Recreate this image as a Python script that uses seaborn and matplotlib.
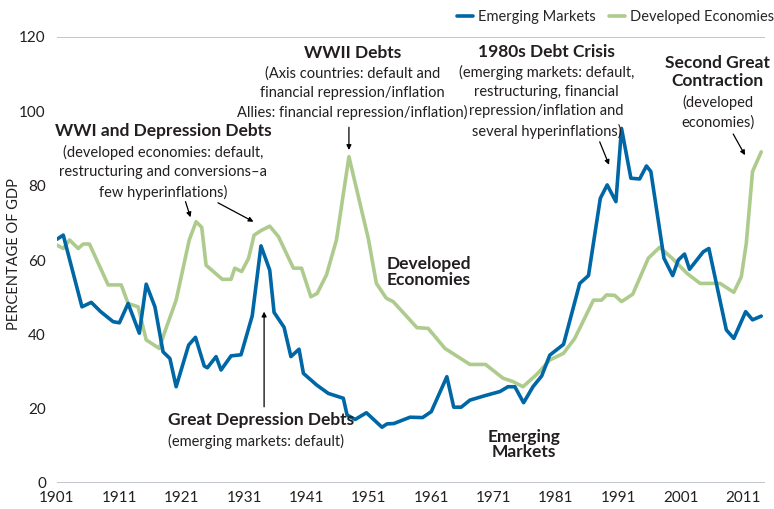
import numpy as np
import pandas as pd
import matplotlib.pyplot as plt
import seaborn as sns

# Emerging markets debt (% of GDP), vertices
em_years = [1901, 1902, 1905, 1906.5, 1908, 1910, 1911, 1912.4, 1914.2, 1915.3, 1916.7, 1918,
            1919.1, 1920.1, 1922.1, 1923.2, 1924.6, 1925.1, 1926.5, 1927.3, 1928.9, 1930.5,
            1932.3, 1933.7, 1935.1, 1935.8, 1937.4, 1938.5, 1939.8, 1940.5, 1942.6, 1944.5,
            1946.9, 1947.5, 1948.8, 1950.6, 1953.1, 1953.9, 1955, 1957.6, 1959.6, 1961,
            1963.5, 1964.6, 1965.8, 1967.2, 1969.6, 1972, 1973.3, 1974.4, 1975.8, 1977.3,
            1978.7, 1980, 1982.2, 1984.8, 1986.2, 1988.1, 1989.2, 1990.6, 1991.5, 1993,
            1994.4, 1995.5, 1996.2, 1998.3, 1999.7, 2000.6, 2001.6, 2002.4, 2004.6, 2005.5,
            2008.3, 2009.5, 2011.4, 2012.5, 2013.9]
em_values = [65.6, 66.7, 47.4, 48.6, 46.1, 43.4, 43.1, 48.3, 40.3, 53.5, 47.4, 35.3,
             33.5, 25.9, 37.1, 39.2, 31.5, 31.0, 34.0, 30.4, 34.2, 34.5,
             45.0, 63.8, 57.3, 45.9, 41.9, 34.0, 36.0, 29.5, 26.4, 24.1,
             22.8, 18.3, 17.1, 18.9, 15.0, 15.9, 16.0, 17.7, 17.6, 19.2,
             28.6, 20.4, 20.4, 22.3, 23.5, 24.6, 25.9, 25.9, 21.6, 25.9,
             28.8, 34.4, 37.3, 53.7, 55.8, 76.6, 80.2, 75.7, 95.4, 82.0,
             81.8, 85.3, 83.8, 60.5, 55.8, 60.0, 61.6, 57.5, 62.2, 63.1,
             41.2, 38.9, 46.1, 43.9, 44.9]

# Developed economies debt (% of GDP)
de_years = [1901, 1902, 1903, 1904.4, 1905.2, 1906.2, 1909.2, 1911.3, 1912.4, 1914, 1915.3,
            1917.4, 1918.2, 1920.1, 1922.2, 1923.3, 1924.2, 1924.9, 1927.5, 1928.9, 1929.5,
            1930.6, 1931.7, 1932.6, 1933.8, 1935.1, 1936.5, 1938.9, 1940.2, 1941.7, 1942.7,
            1944.2, 1945.8, 1947.8, 1950.9, 1952.2, 1953.8, 1954.9, 1958.7, 1960.5, 1963.2,
            1967.2, 1969.7, 1972.5, 1974.1, 1975.7, 1977.9, 1980, 1982.2, 1984, 1987,
            1988.3, 1989.1, 1990.4, 1991.5, 1993.3, 1995.8, 1997.6, 1999.6, 2002, 2004.1,
            2007.3, 2009.5, 2010.7, 2011.5, 2012.5, 2013.9]
de_values = [64.0, 63.1, 65.4, 63.1, 64.3, 64.3, 53.3, 53.3, 48.3, 47.4, 38.5,
             36.2, 40.3, 49.2, 65.4, 70.3, 68.8, 58.6, 54.8, 54.8, 57.8,
             56.9, 60.4, 66.7, 68.0, 69.1, 66.3, 57.8, 57.8, 50.1, 51.0,
             56.0, 65.4, 87.8, 65.8, 53.7, 49.7, 48.8, 41.8, 41.6, 36.2,
             31.9, 31.9, 28.2, 27.3, 25.9, 29.2, 33.1, 34.9, 38.9, 49.2,
             49.2, 50.6, 50.5, 48.8, 50.8, 60.5, 63.4, 60.5, 56.4, 53.7,
             53.7, 51.3, 55.5, 64.5, 83.8, 89.1]

x_ticks = list(range(1901, 2012, 10))
y_ticks = [0, 20, 40, 60, 80, 100, 120]

blue = '#0067a6'
green = '#aecb8e'
grey_line = '#b9bec4'
txt = '#231f20'

sns.set_style('white')
plt.rcParams['font.family'] = ['Lato', 'DejaVu Sans']

fig = plt.figure(figsize=(7.74, 5.09), dpi=100)
ax = fig.add_axes([57 / 774, 1 - 483 / 509, (765 - 57) / 774, (483 - 37) / 509])

de_df = pd.DataFrame({'year': de_years, 'value': de_values})
em_df = pd.DataFrame({'year': em_years, 'value': em_values})
sns.lineplot(data=de_df, x='year', y='value', color=green, linewidth=2.6, ax=ax,
             estimator=None, label='Developed Economies')
sns.lineplot(data=em_df, x='year', y='value', color=blue, linewidth=2.6, ax=ax,
             estimator=None, label='Emerging Markets')

ax.set_xlim(1901, 2014.5)
ax.set_ylim(0, 120)
for s in ax.spines.values():
    s.set_visible(False)
ax.axhline(0, color=grey_line, lw=1.2, zorder=0)
ax.axhline(120, color=grey_line, lw=1.2, zorder=0)

ax.set_xticks(x_ticks)
ax.set_yticks(y_ticks)
ax.tick_params(axis='y', direction='in', length=18, width=1.2, color=grey_line,
               pad=8, labelsize=11, labelcolor=txt)
ax.tick_params(axis='x', length=0, pad=6, labelsize=11, labelcolor=txt)
ax.set_xlabel('')
ax.set_ylabel('')
fig.text(0.018, 0.5, 'PERCENTAGE OF GDP', rotation=90, ha='center', va='center',
         fontsize=10.5, color=txt)

h, l = ax.get_legend_handles_labels()
ax.get_legend().remove()
fig.legend(h[::-1], l[::-1], loc='center right', bbox_to_anchor=(1.0, 1 - 17 / 509),
           ncol=2, frameon=False, fontsize=10.5, handlelength=1.1, handletextpad=0.35,
           columnspacing=0.9, borderpad=0, borderaxespad=0)


def block(x, y_title, title, y_body, body, ha='center'):
    ax.text(x, y_title, title, ha=ha, va='center', fontsize=12.5, fontweight='bold',
            color=txt, linespacing=1.15)
    if body:
        ax.text(x, y_body, body, ha=ha, va='top', fontsize=10.5, color=txt, linespacing=1.48)


def arrow(x0, y0, x1, y1):
    ax.annotate('', xy=(x1, y1), xytext=(x0, y0),
                arrowprops=dict(arrowstyle='-|>', color='black', lw=0.9,
                                mutation_scale=7, shrinkA=0, shrinkB=0))


block(1918.0, 94.7, 'WWI and Depression Debts', 91.0,
      '(developed economies: default,\nrestructuring and conversions\u2013a\nfew hyperinflations)')
arrow(1921.6, 75.7, 1922.4, 71.5)
arrow(1926.8, 75.4, 1932.5, 70.3)

block(1948.4, 115.7, 'WWII Debts', 112.2,
      '(Axis countries: default and\nfinancial repression/inflation\nAllies: financial repression/inflation)')
arrow(1947.8, 95.7, 1947.8, 89.6)

block(1979.5, 116.0, '1980s Debt Crisis', 112.5,
      '(emerging markets: default,\nrestructuring, financial\nrepression/inflation and\nseveral hyperinflations)')
arrow(1988.0, 91.8, 1989.5, 85.6)

block(2006.9, 110.7, 'Second Great\nContraction', 104.4, '(developed\neconomies)')
arrow(2009.4, 93.9, 2011.3, 88.2)

ax.text(1953.8, 56.8, 'Developed\nEconomies', ha='left', va='center', fontsize=12.5,
        fontweight='bold', color=txt, linespacing=1.0)

block(1918.8, 16.9, 'Great Depression Debts', 13.2, '(emerging markets: default)', ha='left')
arrow(1934.2, 20.5, 1934.2, 46.1)

ax.text(1975.8, 10.4, 'Emerging\nMarkets', ha='center', va='center', fontsize=12.5,
        fontweight='bold', color=txt, linespacing=0.9)

fig.savefig('out.png', dpi=100)
